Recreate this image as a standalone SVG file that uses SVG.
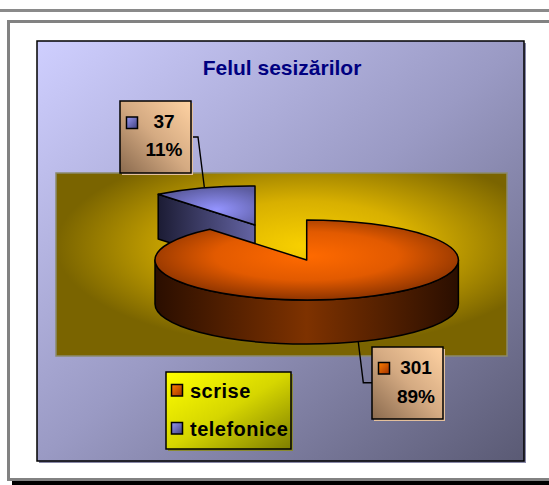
<svg xmlns="http://www.w3.org/2000/svg" width="549" height="485" viewBox="0 0 549 485">
<defs>
<linearGradient id="plotBg" x1="0" y1="0" x2="1" y2="1">
<stop offset="0" stop-color="#cfcfff"/>
<stop offset="0.5" stop-color="#9a9ac4"/>
<stop offset="1" stop-color="#5a5a74"/>
</linearGradient>
<radialGradient id="wall" cx="0.55" cy="0.4" r="0.55">
<stop offset="0" stop-color="#f8d000"/>
<stop offset="0.45" stop-color="#d8b000"/>
<stop offset="1" stop-color="#7a6400"/>
</radialGradient>
<radialGradient id="orangeTop" cx="0.5" cy="0.45" r="0.55">
<stop offset="0" stop-color="#ff6a00"/>
<stop offset="0.55" stop-color="#e25a00"/>
<stop offset="1" stop-color="#8e3400"/>
</radialGradient>
<linearGradient id="orangeSide" x1="0" y1="0" x2="1" y2="0">
<stop offset="0" stop-color="#2a0e00"/>
<stop offset="0.5" stop-color="#7e3200"/>
<stop offset="1" stop-color="#2a0e00"/>
</linearGradient>
<radialGradient id="blueTop" cx="0.6" cy="0.6" r="0.6">
<stop offset="0" stop-color="#9494ff"/>
<stop offset="1" stop-color="#5c5ca0"/>
</radialGradient>
<linearGradient id="blueSide" x1="0" y1="0" x2="1" y2="0">
<stop offset="0" stop-color="#1c1c34"/>
<stop offset="1" stop-color="#6464a4"/>
</linearGradient>
<linearGradient id="labelBg" x1="1" y1="0" x2="0" y2="1">
<stop offset="0" stop-color="#ffd2a2"/>
<stop offset="0.5" stop-color="#d4aa82"/>
<stop offset="1" stop-color="#8a6a4e"/>
</linearGradient>
<linearGradient id="legendBg" x1="0" y1="0" x2="1" y2="1">
<stop offset="0" stop-color="#ffff00"/>
<stop offset="0.5" stop-color="#d6d600"/>
<stop offset="1" stop-color="#7e7e00"/>
</linearGradient>
<linearGradient id="mkOrange" x1="0" y1="0" x2="1" y2="1">
<stop offset="0" stop-color="#ff8000"/>
<stop offset="1" stop-color="#a03000"/>
</linearGradient>
<linearGradient id="mkBlue" x1="0" y1="0" x2="1" y2="1">
<stop offset="0" stop-color="#9898f0"/>
<stop offset="1" stop-color="#404080"/>
</linearGradient>
</defs>
<style>
.edge{stroke:#000;stroke-width:1.5;stroke-linejoin:round}
.lead{fill:none;stroke:#000;stroke-width:1.4}
.lbl{font-family:"Liberation Sans",Arial,sans-serif;font-weight:bold;font-size:19px;fill:#000;text-anchor:middle}
.leg{font-family:"Liberation Sans",Arial,sans-serif;font-weight:bold;font-size:20px;fill:#000;letter-spacing:0.5px}
.mk{stroke:#000;stroke-width:1.5}
</style>
<rect x="0" y="0" width="549" height="485" fill="#fff"/>
<rect x="0" y="9" width="549" height="3" fill="#8a8a8a"/>
<rect x="12" y="481" width="537" height="4" fill="#000"/>
<rect x="8.5" y="21.5" width="560" height="458" fill="#fff" stroke="#828282" stroke-width="3"/>

<g id="plot-area">
<rect x="39" y="43" width="487" height="420" fill="#8888a8"/>
<rect x="37" y="41" width="487" height="420" fill="url(#plotBg)" stroke="#000" stroke-width="1.5"/>
<rect x="56" y="173" width="451" height="183" fill="url(#wall)" stroke="#8c8a6c" stroke-width="1.5"/>
</g>

<g id="title">
<text x="282" y="75" font-family="Liberation Sans, Arial, sans-serif" font-weight="bold" font-size="21" fill="#000080" text-anchor="middle">Felul sesizărilor</text>
</g>

<g id="slice-telefonice">
<path class="edge" d="M255,225 L158.2,194.2 L158.2,239 L255,270 Z" fill="url(#blueSide)"/>
<path class="edge" d="M255,225 L255,186 A151.7,40 0 0 0 158.2,194.2 Z" fill="url(#blueTop)"/>
</g>

<g id="slice-scrise">
<path class="edge" d="M155,260 A151.7,40 0 0 0 458.4,260 L458.4,304 A151.7,40 0 0 1 155,304 Z" fill="url(#orangeSide)"/>
<path class="edge" d="M306.7,260 L306.7,220 A151.7,40 0 1 1 209.9,229.2 Z" fill="url(#orangeTop)"/>
</g>

<g id="connectors">
<polyline class="lead" points="191,137 198,137 204.3,187"/>
<polyline class="lead" points="358.3,342 363.3,382.7 372,382.7"/>
</g>

<g id="label-telefonice">
<rect x="122" y="103" width="71" height="72" fill="#e4c09c"/>
<rect x="120" y="101" width="71" height="72" fill="url(#labelBg)" stroke="#000" stroke-width="1.5"/>
<rect class="mk" x="126.5" y="117" width="11" height="11.5" fill="url(#mkBlue)"/>
<text class="lbl" x="164" y="128">37</text>
<text class="lbl" x="164" y="156">11%</text>
</g>

<g id="label-scrise">
<rect x="374" y="349" width="71" height="72" fill="#e4c09c"/>
<rect x="372" y="347" width="71" height="72" fill="url(#labelBg)" stroke="#000" stroke-width="1.5"/>
<rect class="mk" x="378.5" y="362.5" width="11" height="11.5" fill="url(#mkOrange)"/>
<text class="lbl" x="416" y="374">301</text>
<text class="lbl" x="416" y="403">89%</text>
</g>

<g id="legend">
<rect x="168" y="374" width="125" height="77" fill="#8a8a30"/>
<rect x="166" y="372" width="125" height="77" fill="url(#legendBg)" stroke="#000" stroke-width="1.5"/>
<rect class="mk" x="171.5" y="384.5" width="11" height="11.5" fill="url(#mkOrange)"/>
<text class="leg" x="190" y="398">scrise</text>
<rect class="mk" x="171.5" y="422.5" width="11" height="11.5" fill="url(#mkBlue)"/>
<text class="leg" x="190" y="436">telefonice</text>
</g>
</svg>
